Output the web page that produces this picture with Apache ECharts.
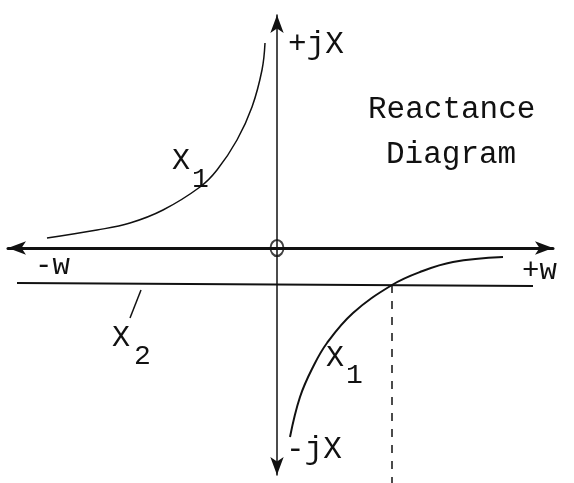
<!DOCTYPE html>
<html>
<head>
<meta charset="utf-8">
<script src="https://cdn.jsdelivr.net/npm/echarts@6/dist/echarts.min.js"></script>
<style>
html, body { margin: 0; padding: 0; background: #fff; }
#chart { width: 574px; height: 483px; }
</style>
</head>
<body>
<div id="chart"></div>
<script>
// readings from the sketch, w on x, reactance on y (origin = axis crossing)
var x1Upper = [[-23.0, 1.0], [-18.0, 1.8], [-14.7, 2.5], [-11.4, 3.8], [-7.7, 6.1],
               [-6.0, 7.8], [-4.0, 10.8], [-2.5, 14.1], [-1.5, 17.8], [-1.2, 20.5]];
var x1Lower = [[1.3, -18.9], [2.3, -14.9], [3.6, -11.9], [5.0, -9.5], [7.6, -6.5],
               [11.5, -3.7], [14.3, -2.4], [17.6, -1.4], [22.6, -0.9]];
var x2Line = [[-26.0, -3.5], [25.6, -3.8]];
var resonance = [[11.5, -3.7], [11.5, -23.5]];
var x2Pointer = [[-13.6, -4.2], [-14.7, -7.0]];
var origin = [[0, 0]];

var ink = '#111';
var mono = '"Liberation Mono", "DejaVu Sans Mono", monospace';

function txt(str, x, y, size) {
    return {
        type: 'text',
        x: x,
        y: y,
        style: {
            text: str,
            font: size + 'px ' + mono,
            fill: ink,
            align: 'left',
            verticalAlign: 'middle'
        }
    };
}

var chart = echarts.init(document.getElementById('chart'));

var option = {
    backgroundColor: '#fff',
    animation: false,
    grid: { left: 8, right: 21, top: 15, bottom: 8 },
    xAxis: {
        type: 'value',
        min: -26.9,
        max: 27.6,
        axisLine: {
            onZero: true,
            symbol: ['arrow', 'arrow'],
            symbolSize: [10, 18],
            lineStyle: { color: ink, width: 3 }
        },
        axisTick: { show: false },
        axisLabel: { show: false },
        splitLine: { show: false }
    },
    yAxis: {
        type: 'value',
        min: -22.7,
        max: 23.3,
        axisLine: {
            onZero: true,
            symbol: ['arrow', 'arrow'],
            symbolSize: [10, 18],
            lineStyle: { color: ink, width: 1.5 }
        },
        axisTick: { show: false },
        axisLabel: { show: false },
        splitLine: { show: false }
    },
    series: [
        {
            name: 'X1 upper',
            type: 'line',
            data: x1Upper,
            smooth: 0.4,
            showSymbol: false,
            lineStyle: { color: ink, width: 1.5 }
        },
        {
            name: 'X1 lower',
            type: 'line',
            data: x1Lower,
            smooth: 0.4,
            showSymbol: false,
            lineStyle: { color: ink, width: 2 }
        },
        {
            name: 'X2',
            type: 'line',
            data: x2Line,
            showSymbol: false,
            lineStyle: { color: ink, width: 2 }
        },
        {
            name: 'resonance',
            type: 'line',
            data: resonance,
            clip: false,
            showSymbol: false,
            lineStyle: { color: ink, width: 1.5, type: [8, 8] }
        },
        {
            name: 'pointer',
            type: 'line',
            data: x2Pointer,
            showSymbol: false,
            lineStyle: { color: ink, width: 1.5 }
        },
        {
            name: 'origin',
            type: 'scatter',
            data: origin,
            symbol: 'circle',
            symbolSize: [13, 16],
            itemStyle: { color: 'rgba(255,255,255,0)', borderColor: ink, borderWidth: 2 }
        }
    ],
    graphic: [
        txt('+jX', 288, 45, 31),
        txt('-jX', 286, 450, 31),
        txt('Reactance', 368, 110, 31),
        txt('Diagram', 386, 155, 31),
        txt('-w', 35, 266, 29),
        txt('+w', 522, 271, 29),
        txt('X', 172, 161, 30),
        txt('1', 192, 180, 28),
        txt('X', 326, 358, 30),
        txt('1', 346, 376, 28),
        txt('X', 112, 338, 30),
        txt('2', 134, 357, 28)
    ]
};

chart.setOption(option);
</script>
</body>
</html>
